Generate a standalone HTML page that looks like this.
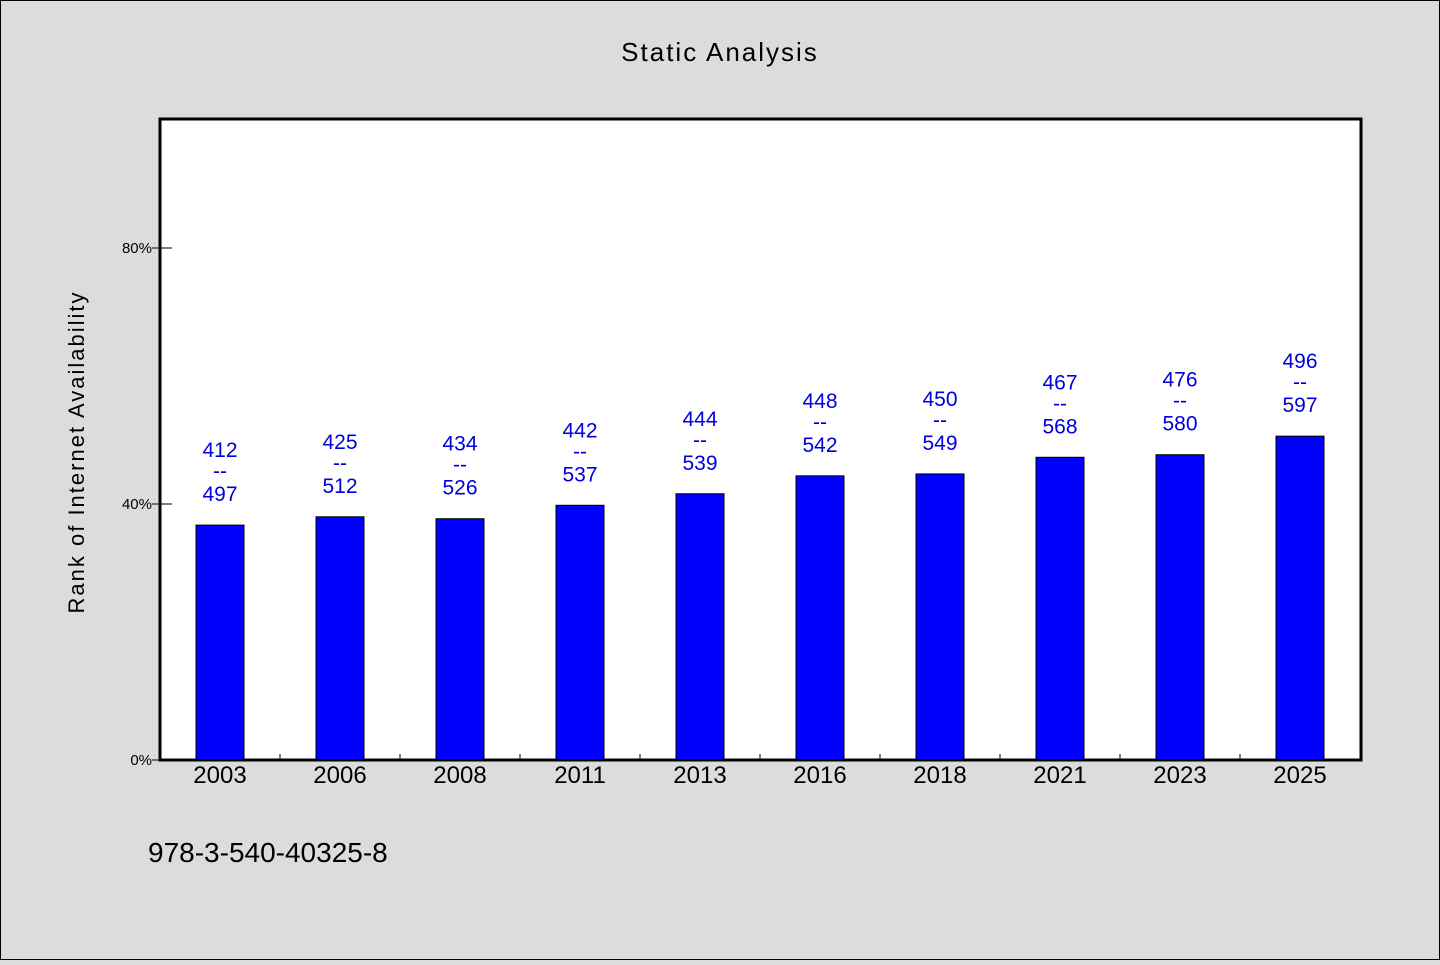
<!DOCTYPE html>
<html><head><meta charset="utf-8"><style>
body{margin:0;background:#dcdcdc;}
svg text{font-family:"WenQuanYi Zen Hei","Liberation Sans",sans-serif;}
</style></head><body>
<svg width="1440" height="960" xmlns="http://www.w3.org/2000/svg">
<rect x="0.5" y="0.5" width="1439" height="959" fill="#dcdcdc" stroke="#000"/>
<text x="720" y="61" text-anchor="middle" font-size="26" letter-spacing="2">Static Analysis</text>
<rect x="160" y="119" width="1201" height="641" fill="#fff" stroke="#000" stroke-width="3"/>
<text transform="translate(84,452) rotate(-90)" text-anchor="middle" font-size="22" letter-spacing="2">Rank of Internet Availability</text>
<text x="148" y="862" font-size="28">978-3-540-40325-8</text>
<g id="marks"></g>
</svg>
<script>
const categories=["2003","2006","2008","2011","2013","2016","2018","2021","2023","2025"];
const values=[36.7,38.0,37.7,39.8,41.6,44.4,44.7,47.3,47.7,50.6];
const labelTop=[412,425,434,442,444,448,450,467,476,496];
const labelBottom=[497,512,526,537,539,542,549,568,580,597];
const yTicks=[0,40,80];
const yTickLabels=["0%","40%","80%"];
const NS="http://www.w3.org/2000/svg";
const g=document.getElementById('marks');
const x0=160,step=120,bw=48;
const y=v=>760-v*6.4;
const xc=i=>x0+step*(i+0.5);
function mk(t,a){const e=document.createElementNS(NS,t);for(const k in a)e.setAttribute(k,a[k]);g.appendChild(e);return e;}
yTicks.forEach((t,i)=>{
  const l=mk('line',{x1:152,x2:172,y1:y(t),y2:y(t),stroke:'#000','stroke-width':1});
  
  
  const tx=mk('text',{x:152,y:y(t)+5,'text-anchor':'end','font-size':15});
  tx.textContent=yTickLabels[i];
  
  
});
categories.forEach((c,i)=>{
  if(i>0){const l=mk('line',{x1:x0+step*i,x2:x0+step*i,y1:754,y2:760,stroke:'#000'});
  
  }
  const r=mk('rect',{x:xc(i)-bw/2,y:y(values[i]),width:bw,height:760-y(values[i]),fill:'#0000ff',stroke:'#000','stroke-width':1});
  
  
  const xl=mk('text',{x:xc(i),y:783,'text-anchor':'middle','font-size':24});
  xl.textContent=c;
  
  
  const top=y(values[i]);
  [[labelTop[i],top-68],["--",top-47],[labelBottom[i],top-24]].forEach(([t,yy])=>{
    const tx=mk('text',{x:xc(i),y:yy,'text-anchor':'middle','font-size':21,fill:'#0000dd'});
    tx.textContent=t;
    
    
  });
});
</script>
</body></html>
